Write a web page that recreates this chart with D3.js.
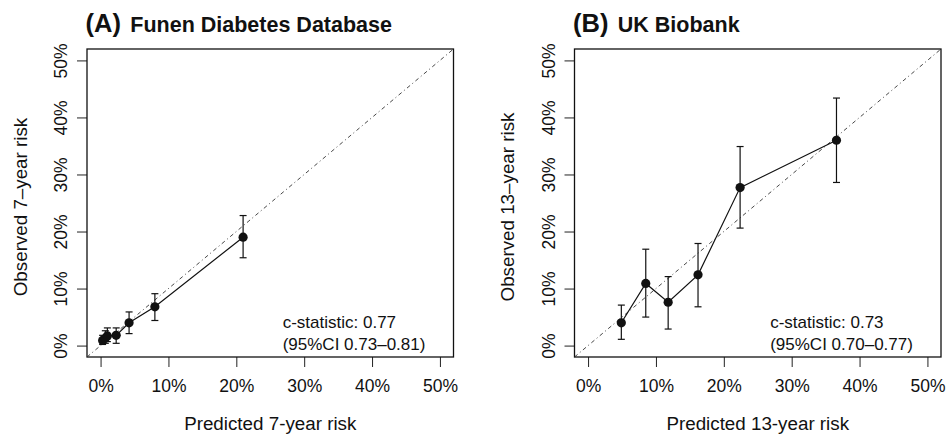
<!DOCTYPE html>
<html>
<head>
<meta charset="utf-8">
<script src="https://cdn.jsdelivr.net/npm/d3@7"></script>
<style>
  body { margin: 0; background: #fff; }
  text { font-family: "Liberation Sans", Arial, sans-serif; fill: #111; }
</style>
</head>
<body>
<div id="chart"></div>
<script>
// tick labels (percent)
var ticks = [0, 10, 20, 30, 40, 50];

// panel A: Funen Diabetes Database (7-year risk, %)
var predA = [0.3, 0.7, 1.0, 2.3, 4.2, 8.0, 21.0];
var obsA  = [0.9, 1.3, 1.7, 1.8, 4.0, 6.8, 19.0];
var loA   = [0.2, 0.4, 0.7, 0.4, 2.1, 4.4, 15.4];
var hiA   = [1.8, 2.6, 3.1, 3.1, 5.9, 9.1, 22.8];

// panel B: UK Biobank (13-year risk, %)
var predB = [4.9, 8.5, 11.8, 16.2, 22.4, 36.6];
var obsB  = [4.0, 10.9, 7.6, 12.4, 27.7, 36.0];
var loB   = [1.1, 5.0, 2.9, 6.8, 20.6, 28.6];
var hiB   = [7.1, 16.9, 12.1, 17.9, 34.9, 43.4];

var W = 947, H = 435;
var svg = d3.select("#chart").append("svg")
  .attr("width", W).attr("height", H);

function panel(opt) {
  var left = opt.left, right = opt.left + 366.5;
  var top = 49, bottom = 357;

  var x = d3.scaleLinear().domain([-2, 52]).range([left, right]);
  var y = d3.scaleLinear().domain([-2, 52]).range([bottom, top]);
  var g = svg.append("g");
  var fmt = d => d + "%";

  // x axis
  var xa = g.append("g").attr("transform", "translate(0," + bottom + ")")
    .call(d3.axisBottom(x).tickValues(ticks).tickFormat(fmt).tickSize(10).tickPadding(13));
  // y axis
  var ya = g.append("g").attr("transform", "translate(" + left + ",0)")
    .call(d3.axisLeft(y).tickValues(ticks).tickFormat(fmt).tickSize(10).tickPadding(0));
  [xa, ya].forEach(a => {
    a.select(".domain").remove();
    a.selectAll(".tick line").attr("stroke", "#222").attr("stroke-width", 1);
    a.selectAll("text").style("font-size", "17.5px").attr("fill", "#111");
  });
  ya.selectAll(".tick text")
    .attr("x", null).attr("dy", null)
    .attr("text-anchor", "middle")
    .attr("transform", "translate(-26,0) rotate(-90)")
    .attr("dominant-baseline", "central");

  // box
  g.append("rect")
    .attr("x", left).attr("y", top)
    .attr("width", right - left).attr("height", bottom - top)
    .attr("fill", "none").attr("stroke", "#111").attr("stroke-width", 1.3);

  // reference diagonal
  g.append("line")
    .attr("x1", x(-2)).attr("y1", y(-2)).attr("x2", x(52)).attr("y2", y(52))
    .attr("stroke", "#333").attr("stroke-width", 0.9)
    .attr("stroke-dasharray", "4,3,1,3");

  var idx = d3.range(opt.pred.length);

  // connecting line
  g.append("path")
    .datum(idx)
    .attr("fill", "none").attr("stroke", "#111").attr("stroke-width", 1.2)
    .attr("d", d3.line().x(i => x(opt.pred[i])).y(i => y(opt.obs[i])));

  // error bars
  var eb = g.selectAll(".eb").data(idx).enter().append("g")
    .attr("stroke", "#111").attr("stroke-width", 1.2);
  eb.append("line")
    .attr("x1", i => x(opt.pred[i])).attr("x2", i => x(opt.pred[i]))
    .attr("y1", i => y(opt.lo[i])).attr("y2", i => y(opt.hi[i]));
  eb.append("line")
    .attr("x1", i => x(opt.pred[i]) - 3.5).attr("x2", i => x(opt.pred[i]) + 3.5)
    .attr("y1", i => y(opt.lo[i])).attr("y2", i => y(opt.lo[i]));
  eb.append("line")
    .attr("x1", i => x(opt.pred[i]) - 3.5).attr("x2", i => x(opt.pred[i]) + 3.5)
    .attr("y1", i => y(opt.hi[i])).attr("y2", i => y(opt.hi[i]));

  // points
  g.selectAll(".pt").data(idx).enter().append("circle")
    .attr("cx", i => x(opt.pred[i])).attr("cy", i => y(opt.obs[i]))
    .attr("r", 4.6).attr("fill", "#111");

  // annotation
  g.append("text").attr("x", left + 195.7).attr("y", 327.5)
    .style("font-size", "17px").text(opt.stat);
  g.append("text").attr("x", left + 195.7).attr("y", 349.5)
    .style("font-size", "17px").text(opt.ci);

  // axis titles
  g.append("text")
    .attr("x", (left + right) / 2).attr("y", 429.5)
    .attr("text-anchor", "middle").style("font-size", "18.8px")
    .text(opt.xlab);
  g.append("text")
    .attr("transform", "translate(" + (left - 60.5) + "," + ((top + bottom) / 2 + 4) + ") rotate(-90)")
    .attr("text-anchor", "middle").style("font-size", "18.8px")
    .text(opt.ylab);

  // title
  g.append("text").attr("x", left - 1.5).attr("y", 31.5)
    .style("font-size", "25.5px").style("font-weight", "bold")
    .text(opt.tag);
  g.append("text").attr("x", left + 43.3).attr("y", 31.5)
    .style("font-size", "21.5px").style("font-weight", "bold")
    .text(opt.title);
}

panel({
  left: 87, pred: predA, obs: obsA, lo: loA, hi: hiA,
  tag: "(A)", title: "Funen Diabetes Database",
  xlab: "Predicted 7-year risk", ylab: "Observed 7\u2013year risk",
  stat: "c-statistic: 0.77", ci: "(95%CI 0.73\u20130.81)"
});
panel({
  left: 574.5, pred: predB, obs: obsB, lo: loB, hi: hiB,
  tag: "(B)", title: "UK Biobank",
  xlab: "Predicted 13-year risk", ylab: "Observed 13\u2013year risk",
  stat: "c-statistic: 0.73", ci: "(95%CI 0.70\u20130.77)"
});
</script>
</body>
</html>
